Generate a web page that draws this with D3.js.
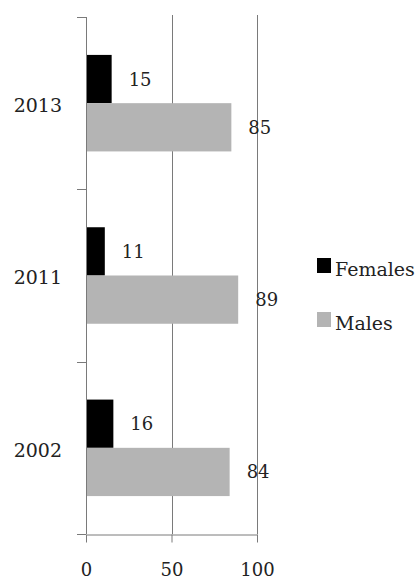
<!DOCTYPE html>
<html lang="en">
<head>
    <meta charset="UTF-8">
    <title>Females and Males</title>
    <script src="https://d3js.org/d3.v7.min.js"></script>
    <style>
        body { margin: 0; background: #fff; }
        text { font-family: "DejaVu Serif", serif; fill: #222; }
    </style>
</head>
<body>
    <svg width="417" height="581"></svg>
    <script>
        const years = ["2013", "2011", "2002"];
        const series = ["Females", "Males"];
        const females = [15, 11, 16];
        const males = [85, 89, 84];
        const xTicks = [0, 50, 100];

        const colors = { Females: "#000000", Males: "#b4b4b4" };
        const rows = years.map((y, i) => ({ year: y, Females: females[i], Males: males[i] }));

        const svg = d3.select("svg");
        const plotLeft = 86, plotRight = 257, plotTop = 17, plotBottom = 534;

        const x = d3.scaleLinear().domain([0, 100]).range([plotLeft, plotRight]);
        const y = d3.scaleBand().domain(years).range([plotTop, plotBottom])
                    .paddingInner(0.44).paddingOuter(0.22);
        const sub = d3.scaleBand().domain(series).range([0, y.bandwidth()]);

        // vertical grid lines at 50 and 100
        svg.append("g")
           .selectAll("line")
           .data(xTicks.filter(d => d > 0))
           .enter().append("line")
           .attr("x1", d => Math.round(x(d)) + 0.5)
           .attr("x2", d => Math.round(x(d)) + 0.5)
           .attr("y1", plotTop - 2)
           .attr("y2", plotBottom)
           .attr("stroke", "#7a7a7a");

        // bars
        const groups = svg.append("g")
           .selectAll("g")
           .data(rows)
           .enter().append("g")
           .attr("transform", d => `translate(0, ${y(d.year)})`);

        groups.selectAll("rect")
           .data(d => series.map(s => ({ key: s, value: d[s] })))
           .enter().append("rect")
           .attr("x", x(0))
           .attr("y", d => sub(d.key))
           .attr("width", d => x(d.value) - x(0))
           .attr("height", sub.bandwidth())
           .attr("fill", d => colors[d.key]);

        groups.selectAll("text")
           .data(d => series.map(s => ({ key: s, value: d[s] })))
           .enter().append("text")
           .attr("x", d => x(d.value) + 17)
           .attr("y", d => sub(d.key) + sub.bandwidth() / 2)
           .attr("dy", "0.36em")
           .attr("font-size", 18)
           .text(d => d.value);

        // left axis: line, boundary ticks, year labels
        const yAxis = svg.append("g");
        yAxis.append("line")
           .attr("x1", plotLeft + 0.5).attr("x2", plotLeft + 0.5)
           .attr("y1", plotTop).attr("y2", plotBottom)
           .attr("stroke", "#7a7a7a");
        const bounds = years.map(d => y(d) - y.step() * y.paddingOuter()).concat([plotBottom]);
        yAxis.selectAll(".bt")
           .data(bounds)
           .enter().append("line")
           .attr("x1", plotLeft - 9).attr("x2", plotLeft)
           .attr("y1", d => Math.round(d) + 0.5)
           .attr("y2", d => Math.round(d) + 0.5)
           .attr("stroke", "#7a7a7a");
        yAxis.selectAll(".yl")
           .data(years)
           .enter().append("text")
           .attr("x", 62)
           .attr("y", d => y(d) + y.bandwidth() / 2 + 2)
           .attr("dy", "0.36em")
           .attr("text-anchor", "end")
           .attr("font-size", 19)
           .text(d => d);

        // bottom axis
        const xAxis = svg.append("g")
           .attr("transform", `translate(0, ${Math.round(plotBottom) + 0.5})`)
           .call(d3.axisBottom(x).tickValues(xTicks).tickSize(8).tickSizeOuter(0).tickPadding(21));
        xAxis.select(".domain").attr("stroke", "#7a7a7a");
        xAxis.selectAll(".tick line").attr("stroke", "#7a7a7a");
        xAxis.selectAll(".tick text")
           .attr("font-family", "DejaVu Serif")
           .attr("font-size", 18)
           .attr("fill", "#222");

        // legend
        const legend = svg.append("g")
           .selectAll("g")
           .data(series)
           .enter().append("g")
           .attr("transform", (d, i) => `translate(317, ${258 + i * 54})`);
        legend.append("rect")
           .attr("width", 14).attr("height", 15)
           .attr("fill", d => colors[d]);
        legend.append("text")
           .attr("x", 18).attr("y", 18)
           .attr("font-size", 19)
           .text(d => d);
    </script>
</body>
</html>
